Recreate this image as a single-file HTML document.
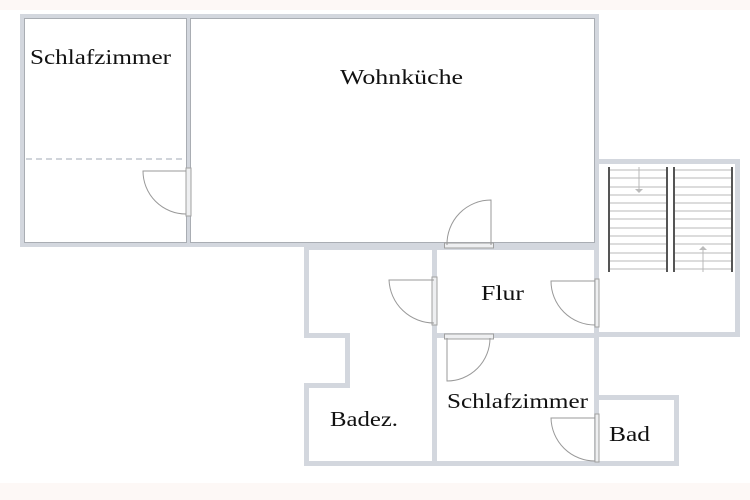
<!DOCTYPE html>
<html><head><meta charset="utf-8"><style>
html,body{margin:0;padding:0;background:#fff;}
svg{display:block;}
text{font-family:"Liberation Serif",serif;font-size:21px;fill:#111;}
</style></head><body>
<svg width="750" height="500" viewBox="0 0 750 500" xmlns="http://www.w3.org/2000/svg">
<rect x="0" y="0" width="750" height="10" fill="#fdf8f6"/>
<rect x="0" y="483" width="750" height="17" fill="#fdf8f6"/>
<g fill="none" stroke="#d3d7de" stroke-width="5">
 <rect x="22.5" y="16.5" width="166" height="228"/>
 <rect x="188.5" y="16.5" width="408" height="228"/>
 <rect x="596.5" y="161.5" width="141" height="173"/>
 <path d="M306.5 247.5 H434.5 V463.5 H306.5 V385.5 H347.5 V335.5 H306.5 Z"/>
 <rect x="434.5" y="247.5" width="162" height="88"/>
 <path d="M434.5 335.5 H596.5 V463.5 H434.5 Z"/>
 <rect x="596.5" y="397.5" width="80" height="66"/>
</g>
<g fill="none" stroke="#a9adb3" stroke-width="1">
 <rect x="24.5" y="18.5" width="162" height="224"/>
 <rect x="190.5" y="18.5" width="404" height="224"/>
</g>
<line x1="26" y1="159" x2="186" y2="159" stroke="#d0d4da" stroke-width="2" stroke-dasharray="6,4"/>
<g fill="#eeeff1" stroke="#a0a0a0" stroke-width="1">
 <rect x="186" y="168" width="5" height="48"/>
 <rect x="444.5" y="243" width="49" height="5"/>
 <rect x="432" y="277" width="5" height="48"/>
 <rect x="595" y="279" width="4" height="48"/>
 <rect x="444.5" y="334" width="49" height="5"/>
 <rect x="595" y="414" width="4" height="48"/>
</g>
<g fill="none" stroke="#999" stroke-width="1">
 <path d="M186 171 H143 A43 43 0 0 0 186 214"/>
 <path d="M491 245 V200 A44 44 0 0 0 447 245"/>
 <path d="M434 280 H389 A45 45 0 0 0 434 323"/>
 <path d="M595 281 H551 A44 44 0 0 0 595 325"/>
 <path d="M447 338 V381 A43 43 0 0 0 490 338"/>
 <path d="M595 418 H551 A44 44 0 0 0 595 461"/>
</g>
<g stroke="#b8b8b8" stroke-width="1">
 <path d="M609 170H667M609 178H667M609 187H667M609 195H667M609 203H667M609 211H667M609 219H667M609 228H667M609 236H667M609 244H667M609 253H667M609 261H667M609 269H667"/>
 <path d="M674 170H732M674 178H732M674 187H732M674 195H732M674 203H732M674 211H732M674 219H732M674 228H732M674 236H732M674 244H732M674 253H732M674 261H732M674 269H732"/>
 <path d="M639 167V191M703 248V272"/>
</g>
<path d="M635 189 L639 193 L643 189 Z M699 250 L703 246 L707 250 Z" fill="#bbb"/>
<g stroke="#555" stroke-width="2">
 <path d="M609 167V272M667 167V272M674 167V272M732 167V272"/>
</g>
<text x="30" y="64" textLength="141" lengthAdjust="spacingAndGlyphs">Schlafzimmer</text>
<text x="340" y="84" textLength="123" lengthAdjust="spacingAndGlyphs">Wohnküche</text>
<text x="481" y="300" textLength="43" lengthAdjust="spacingAndGlyphs">Flur</text>
<text x="447" y="408" textLength="141" lengthAdjust="spacingAndGlyphs">Schlafzimmer</text>
<text x="330" y="426" textLength="68" lengthAdjust="spacingAndGlyphs">Badez.</text>
<text x="609" y="441" textLength="41" lengthAdjust="spacingAndGlyphs">Bad</text>
</svg>
</body></html>
